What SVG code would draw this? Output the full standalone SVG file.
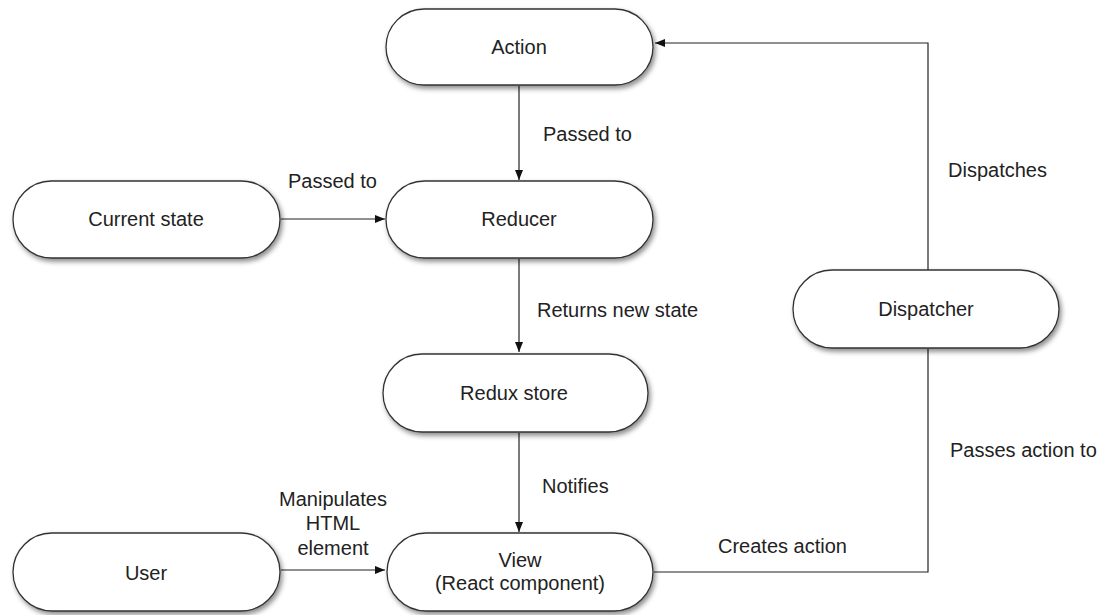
<svg xmlns="http://www.w3.org/2000/svg" width="1111" height="615" viewBox="0 0 1111 615">
<defs>
<filter id="sh" x="-10%" y="-20%" width="125%" height="150%">
<feDropShadow dx="2" dy="3" stdDeviation="2.5" flood-color="#000" flood-opacity="0.45"/>
</filter>
<marker id="ar" markerWidth="10" markerHeight="8" refX="10" refY="4" orient="auto" markerUnits="userSpaceOnUse">
<path d="M0,0 L10,4 L0,8 z" fill="#111"/>
</marker>
<style>
.n{fill:#fff;stroke:#333;stroke-width:1.3;filter:url(#sh)}
.t{font-family:"Liberation Sans",Arial,sans-serif;font-size:20px;fill:#222;text-anchor:middle}
.l{font-family:"Liberation Sans",Arial,sans-serif;font-size:20px;fill:#222}
.c{fill:none;stroke:#222;stroke-width:1.2}
</style>
</defs>
<rect width="1111" height="615" fill="#fff"/>
<g id="connectors">
<line class="c" x1="519" y1="86" x2="519" y2="180" marker-end="url(#ar)"/>
<line class="c" x1="281" y1="219" x2="385" y2="219" marker-end="url(#ar)"/>
<line class="c" x1="519" y1="259" x2="519" y2="352" marker-end="url(#ar)"/>
<line class="c" x1="519" y1="433" x2="519" y2="532" marker-end="url(#ar)"/>
<line class="c" x1="281" y1="570" x2="385" y2="570" marker-end="url(#ar)"/>
<polyline class="c" points="928,270 928,43 655,43" marker-end="url(#ar)"/>
<polyline class="c" points="928,349 928,572 654,572"/>
<text class="l" x="543" y="141">Passed to</text>
<text class="l" x="288" y="188">Passed to</text>
<text class="l" x="537" y="317">Returns new state</text>
<text class="l" x="542" y="493">Notifies</text>
<text class="t" x="333" y="506">Manipulates</text>
<text class="t" x="333" y="530">HTML</text>
<text class="t" x="333" y="555">element</text>
<text class="l" x="718" y="553">Creates action</text>
<text class="l" x="948" y="177">Dispatches</text>
<text class="l" x="950" y="457">Passes action to</text>
</g>
<g id="action"><rect class="n" x="386" y="9" width="267" height="76" rx="38"/><text class="t" x="519" y="54">Action</text></g>
<g id="current-state"><rect class="n" x="13" y="181" width="267" height="77" rx="38.5"/><text class="t" x="146" y="226">Current state</text></g>
<g id="reducer"><rect class="n" x="386" y="181" width="267" height="77" rx="38.5"/><text class="t" x="519" y="226">Reducer</text></g>
<g id="redux-store"><rect class="n" x="383" y="354" width="265" height="78" rx="39"/><text class="t" x="514" y="400">Redux store</text></g>
<g id="dispatcher"><rect class="n" x="793" y="270" width="266" height="78" rx="39"/><text class="t" x="926" y="316">Dispatcher</text></g>
<g id="user"><rect class="n" x="13" y="533" width="267" height="78" rx="39"/><text class="t" x="146" y="580">User</text></g>
<g id="view"><rect class="n" x="387" y="533" width="266" height="78" rx="39"/><text class="t" x="520" y="567">View</text><text class="t" x="520" y="590">(React component)</text></g>
</svg>
